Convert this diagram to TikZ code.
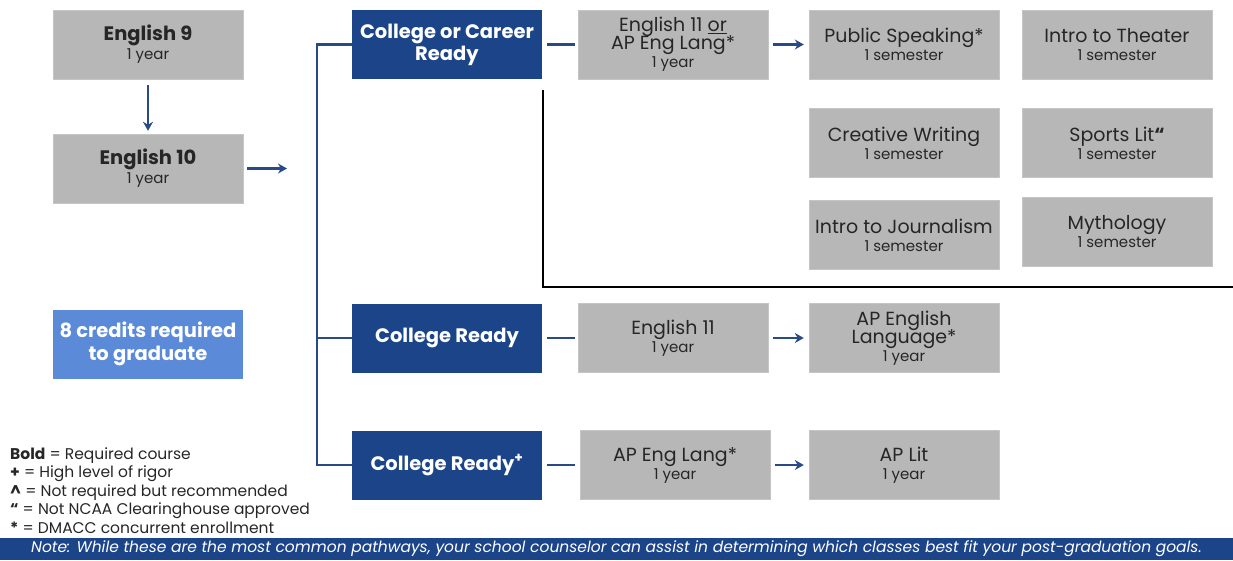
\documentclass[tikz,border=0pt]{standalone}
\usepackage{fontspec}
\usetikzlibrary{arrows.meta}
\setmainfont{Poppins}
\definecolor{navy}{HTML}{1B4489}
\definecolor{skyb}{HTML}{5A8AD8}
\definecolor{boxgray}{HTML}{B7B7B7}
\definecolor{arrowb}{HTML}{2A4A86}
\tikzset{
  course/.style={fill=boxgray, draw=boxgray!80!white, minimum width=190, minimum height=69, inner sep=0pt, align=center, font=\fontsize{19}{20}\selectfont, text=black!85},
  path/.style={fill=navy, minimum width=190, minimum height=69, inner sep=0pt, align=center, text=white, font=\fontsize{19.5}{22}\selectfont\bfseries},
  link/.style={arrowb, line width=2.2pt},
  flow/.style={arrowb, line width=2.2pt, -{Stealth[length=9pt, width=10pt]}}
}
\newcommand{\dur}[1]{\\[-2pt]{\fontsize{15}{16}\selectfont #1}}
\begin{document}
\begin{tikzpicture}[x=1pt, y=-1pt]
  \useasboundingbox (0,0) rectangle (1233,560);
  % Required
  \node[course, font=\fontsize{19.5}{21}\selectfont\bfseries] (eng9) at (148,44.5) {English 9\dur{\mdseries 1 year}};
  \node[course, font=\fontsize{19.5}{21}\selectfont\bfseries] (eng10) at (148,168.5) {English 10\dur{\mdseries 1 year}};
  \node[fill=skyb, minimum width=190, minimum height=69, inner sep=0pt, align=center, text=white, font=\fontsize{19.5}{23}\selectfont\bfseries] (credits) at (148,344) {8 credits required\\to graduate};
  \draw[flow, shorten <=6pt, shorten >=3pt] (eng9) -- (eng10);
  \coordinate (split) at (287,168.5);
  \draw[flow, shorten <=4pt] (eng10) -- (split);
  % Pathways
  \node[path] (ccr) at (447,44.5) {College or Career\\Ready};
  \node[path] (cr) at (447,338) {College Ready};
  \node[path] (crp) at (447,465) {College Ready\textsuperscript{+}};
  \draw[link] (ccr.west) -- ++(-35,0) |- (crp.west);
  \draw[link] (ccr.west) ++(-35,0) |- (cr.west);
  % College or Career Ready
  \node[course] (eng11a) at (673,44.5) {English 11 \underline{or}\\[-2pt]AP Eng Lang*\dur{1 year}};
  \node[course] (speak) at (904,44.5) {Public Speaking*\dur{1 semester}};
  \node[course] (theater) at (1117,44.5) {Intro to Theater\dur{1 semester}};
  \node[course] (writing) at (904,143) {Creative Writing\dur{1 semester}};
  \node[course] (sports) at (1117,143) {Sports Lit{\bfseries “}\dur{1 semester}};
  \node[course] (journal) at (904,235) {Intro to Journalism\dur{1 semester}};
  \node[course] (myth) at (1117,232) {Mythology\dur{1 semester}};
  \draw[link, shorten <=5pt, shorten >=3pt] (ccr) -- (eng11a);
  \draw[flow, shorten <=5pt, shorten >=5pt] (eng11a) -- (speak);
  \coordinate (bktop) at (543,90);
  \coordinate (bkend) at (1233,287);
  \draw[line width=2.6pt] (bktop) |- (bkend);
  % College Ready
  \node[course] (eng11b) at (673,338) {English 11\dur{1 year}};
  \node[course] (apenglang) at (904,338) {AP English\\[-2pt]Language*\dur{1 year}};
  \draw[link, shorten <=5pt, shorten >=3pt] (cr) -- (eng11b);
  \draw[flow, shorten <=5pt, shorten >=5pt] (eng11b) -- (apenglang);
  % College Ready+
  \node[course] (aplang) at (675,465) {AP Eng Lang*\dur{1 year}};
  \node[course] (aplit) at (904,465) {AP Lit\dur{1 year}};
  \draw[link, shorten <=5pt, shorten >=5pt] (crp) -- (aplang);
  \draw[flow, shorten <=5pt, shorten >=5pt] (aplang) -- (aplit);
  % Legend
  \node[anchor=north west, align=left, inner sep=0pt, text=black!85, font=\fontsize{15.5}{18.6}\selectfont] (legend) at (10,447)
    {\textbf{Bold} = Required course\\
     \textbf{+} = High level of rigor\\
     \textbf{\textasciicircum} = Not required but recommended\\
     \textbf{“} = Not NCAA Clearinghouse approved\\
     \textbf{*} = DMACC concurrent enrollment};
  % Note
  \node[fill=navy, minimum width=1233, minimum height=22, inner sep=0pt, text=white, font=\fontsize{15.5}{16}\selectfont\itshape] (note) at (616.5,549)
    {Note: While these are the most common pathways, your school counselor can assist in determining which classes best fit your post-graduation goals.};
\end{tikzpicture}
\end{document}
